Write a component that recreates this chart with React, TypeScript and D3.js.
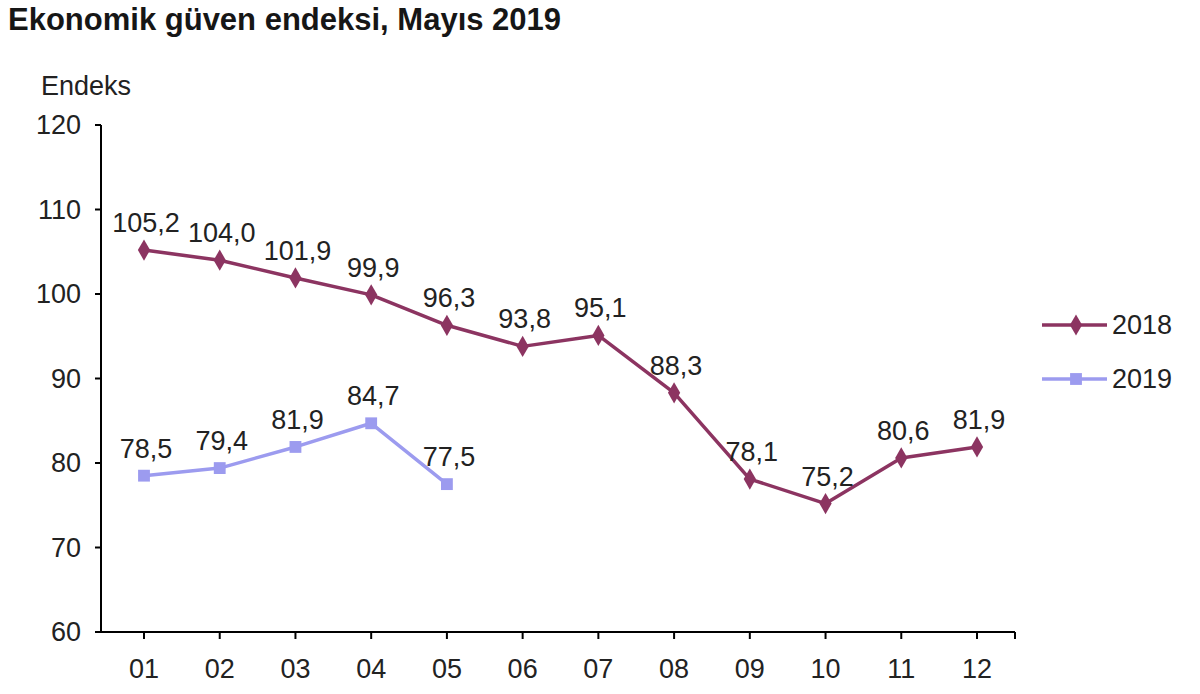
import React from 'react';
import * as d3 from 'd3';

// Monthly index values
const months = ['01', '02', '03', '04', '05', '06', '07', '08', '09', '10', '11', '12'];
const values2018 = [105.2, 104.0, 101.9, 99.9, 96.3, 93.8, 95.1, 88.3, 78.1, 75.2, 80.6, 81.9];
const values2019 = [78.5, 79.4, 81.9, 84.7, 77.5];
const yTicks = [60, 70, 80, 90, 100, 110, 120];
const seriesNames = ['2018', '2019'];

const W = 1200;
const H = 694;
const FONT = '"Liberation Sans", Arial, sans-serif';
const TEXT = '#222';
const COLOR_2018 = '#8c3461';
const COLOR_2019 = '#9c9bef';

const axisLeft = 101;
const axisRight = 1015;
const axisBottom = 632;
const axisTop = 125;

const x = d3.scalePoint<string>().domain(months).range([144, 977]);
const y = d3.scaleLinear().domain([60, 120]).range([axisBottom, axisTop]);

const fmt = (v: number) => d3.format('.1f')(v).replace('.', ',');

const line = d3
  .line<number>()
  .x((_, i) => x(months[i]) as number)
  .y(d => y(d));

const diamond = d3.symbol().type(d3.symbolDiamond).size(130)();
const square = d3.symbol().type(d3.symbolSquare).size(140)();

export default function App() {
  const series = [
    { name: seriesNames[0], values: values2018, color: COLOR_2018, marker: diamond },
    { name: seriesNames[1], values: values2019, color: COLOR_2019, marker: square },
  ];

  return (
    <div style={{ position: 'absolute', left: 0, top: 0 }}>
      <svg width={W} height={H} style={{ display: 'block', background: '#fff' }} fontFamily={FONT}>
        <text x={8} y={30} fontSize={31} fontWeight="bold" fill="#161616">
          Ekonomik güven endeksi, Mayıs 2019
        </text>
        <text x={41} y={95} fontSize={27} fill={TEXT}>
          Endeks
        </text>

        {/* y axis */}
        <line x1={axisLeft} x2={axisLeft} y1={axisTop} y2={axisBottom} stroke="#000" strokeWidth={2} />
        {yTicks.map(t => (
          <g key={t}>
            <line x1={axisLeft - 6} x2={axisLeft} y1={y(t)} y2={y(t)} stroke="#000" strokeWidth={2} />
            <text x={81} y={y(t)} dy="0.35em" textAnchor="end" fontSize={27} fill={TEXT}>
              {t}
            </text>
          </g>
        ))}

        {/* x axis */}
        <line x1={axisLeft - 6} x2={axisRight} y1={axisBottom} y2={axisBottom} stroke="#000" strokeWidth={2} />
        {months.map(m => (
          <g key={m}>
            <line x1={x(m)} x2={x(m)} y1={axisBottom} y2={axisBottom + 7} stroke="#000" strokeWidth={2} />
            <text x={x(m)} y={678} textAnchor="middle" fontSize={27} fill={TEXT}>
              {m}
            </text>
          </g>
        ))}
        <line x1={axisRight} x2={axisRight} y1={axisBottom} y2={axisBottom + 7} stroke="#000" strokeWidth={2} />

        {/* series */}
        {series.map(s => (
          <g key={s.name}>
            <path d={line(s.values) || ''} fill="none" stroke={s.color} strokeWidth={3.5} strokeLinejoin="round" />
            {s.values.map((v, i) => (
              <path
                key={i}
                d={s.marker || ''}
                transform={`translate(${x(months[i])},${y(v)})`}
                fill={s.color}
              />
            ))}
            {s.values.map((v, i) => (
              <text
                key={'l' + i}
                x={(x(months[i]) as number) + 2}
                y={y(v) - 18}
                textAnchor="middle"
                fontSize={27}
                fill={TEXT}
              >
                {fmt(v)}
              </text>
            ))}
          </g>
        ))}

        {/* legend */}
        {series.map((s, i) => (
          <g key={s.name} transform={`translate(1042,${325 + i * 54})`}>
            <line x1={0} x2={65} y1={0} y2={0} stroke={s.color} strokeWidth={3.5} />
            <path d={s.marker || ''} transform="translate(34,0)" fill={s.color} />
            <text x={70} y={0} dy="0.35em" fontSize={27} fill={TEXT}>
              {s.name}
            </text>
          </g>
        ))}
      </svg>
    </div>
  );
}
